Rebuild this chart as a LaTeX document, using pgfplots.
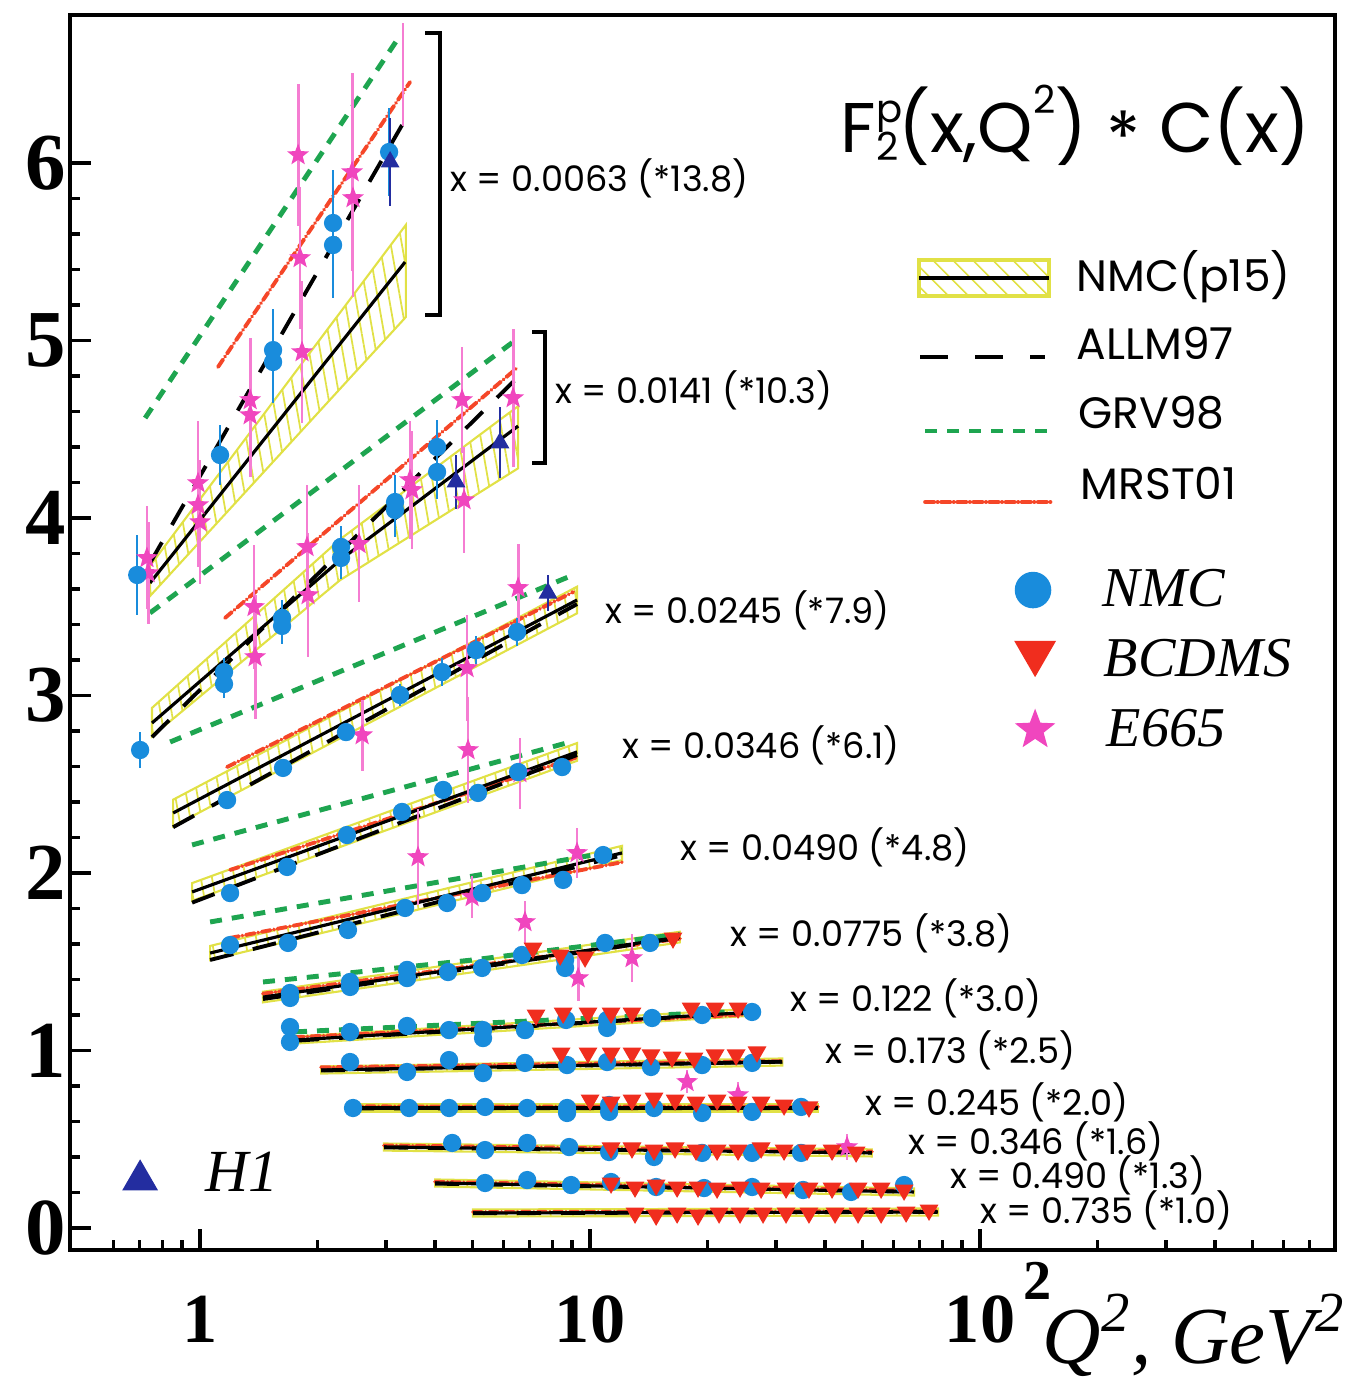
\documentclass[border=0pt]{standalone}
\usepackage{fontspec}
\setmainfont{Liberation Serif}
\newfontfamily\pop{Poppins}
\usepackage{pgfplots}
\pgfplotsset{compat=1.18}
\usetikzlibrary{patterns.meta}

\definecolor{nmcblue}{RGB}{25,140,220}
\definecolor{bcdred}{RGB}{240,45,30}
\definecolor{e665}{RGB}{240,70,190}
\definecolor{h1blue}{RGB}{35,45,160}
\definecolor{grvgreen}{RGB}{30,165,80}
\definecolor{mrstred}{RGB}{245,70,40}
\definecolor{bandyellow}{RGB}{225,225,70}

\pgfdeclareplotmark{fstar}{%
  \pgfpathmoveto{\pgfpointpolar{90}{\pgfplotmarksize}}%
  \pgfpathlineto{\pgfpointpolar{126}{0.42\pgfplotmarksize}}%
  \pgfpathlineto{\pgfpointpolar{162}{\pgfplotmarksize}}%
  \pgfpathlineto{\pgfpointpolar{198}{0.42\pgfplotmarksize}}%
  \pgfpathlineto{\pgfpointpolar{234}{\pgfplotmarksize}}%
  \pgfpathlineto{\pgfpointpolar{270}{0.42\pgfplotmarksize}}%
  \pgfpathlineto{\pgfpointpolar{306}{\pgfplotmarksize}}%
  \pgfpathlineto{\pgfpointpolar{342}{0.42\pgfplotmarksize}}%
  \pgfpathlineto{\pgfpointpolar{18}{\pgfplotmarksize}}%
  \pgfpathlineto{\pgfpointpolar{54}{0.42\pgfplotmarksize}}%
  \pgfpathclose
  \pgfusepathqfillstroke}

\pgfplotsset{
  band/.style={draw=bandyellow, line width=0.6pt, mark=none,
    pattern={Lines[angle=100,distance=1.1mm,line width=0.5pt]}, pattern color=bandyellow},
  fitline/.style={black, line width=0.9pt, mark=none},
  allm/.style={black, line width=1.1pt, mark=none, dash pattern=on 2.4mm off 2mm},
  grv/.style={grvgreen, line width=1.4pt, mark=none, dash pattern=on 1.2mm off 1mm},
  mrst/.style={mrstred, line width=1.1pt, mark=none, line cap=round,
    dash pattern=on 0.9mm off 0.35mm on 0.01mm off 0.35mm},
}

\begin{document}
\begin{tikzpicture}
\begin{axis}[
  at={(0,0)}, anchor=south west,
  scale only axis, width=12.65cm, height=12.35cm,
  xmode=log, log basis x=10,
  xmin=0.464, xmax=813, ymin=-0.124, ymax=6.834,
  tick pos=left, tick align=inside,
  xtick={1,10,100},
  xticklabels={1,10,{10\rlap{\hspace{0.12em}\smash{\raisebox{0.62em}{\fontsize{16}{16}\selectfont 2}}}}},
  minor xtick={0.6,0.7,0.8,0.9,2,3,4,5,6,7,8,9,20,30,40,50,60,70,80,90,200,300,400,500,600,700},
  ytick={0,1,2,3,4,5,6}, minor y tick num=4,
  major tick length=2.1mm, minor tick length=1mm,
  every tick/.style={black, line width=1pt},
  axis line style={line width=1.2pt},
  /pgf/number format/assume math mode=true,
  ticklabel style={font=\fontsize{20}{20}\selectfont\bfseries, inner sep=1pt},
  yticklabel style={font=\fontsize{23}{23}\selectfont\bfseries},
  xticklabel style={yshift=-4.2mm},
]

% ---------- NMC(p15) bands ----------
\addplot[band] coordinates {(0.744,3.73) (3.37,5.651) (3.37,5.132) (0.744,3.56)} -- cycle;
\addplot[band] coordinates {(0.753,2.93) (2.286,3.88) (6.54,4.63) (6.54,4.28) (2.286,3.65) (0.753,2.77)} -- cycle;
\addplot[band] coordinates {(0.853,2.413) (9.26,3.613) (9.26,3.463) (0.853,2.263)} -- cycle;
\addplot[band] coordinates {(0.954,1.943) (9.26,2.732) (9.26,2.632) (0.954,1.843)} -- cycle;
\addplot[band] coordinates {(1.061,1.589) (12.08,2.153) (12.08,2.073) (1.061,1.509)} -- cycle;
\addplot[band] coordinates {(1.45,1.331) (17.0,1.669) (17.0,1.609) (1.45,1.271)} -- cycle;
\addplot[band] coordinates {(1.752,1.079) (26.5,1.237) (26.5,1.197) (1.752,1.039)} -- cycle;
\addplot[band] coordinates {(2.043,0.91) (31.1,0.955) (31.1,0.915) (2.043,0.87)} -- cycle;
\addplot[band] coordinates {(2.424,0.696) (38.4,0.696) (38.4,0.656) (2.424,0.656)} -- cycle;
\addplot[band] coordinates {(2.963,0.476) (52.8,0.443) (52.8,0.403) (2.963,0.436)} -- cycle;
\addplot[band] coordinates {(4.005,0.2735) (67.7,0.223) (67.7,0.183) (4.005,0.2335)} -- cycle;
\addplot[band] coordinates {(5.01,0.1045) (78.0,0.11) (78.0,0.07) (5.01,0.0645)} -- cycle;

% ---------- GRV98 ----------
\addplot[grv] coordinates {(0.723,4.563) (3.20,6.693)};
\addplot[grv] coordinates {(0.744,3.465) (6.35,4.992)};
\addplot[grv] coordinates {(0.838,2.738) (9.05,3.679)};
\addplot[grv] coordinates {(0.954,2.158) (8.89,2.738)};
\addplot[grv] coordinates {(1.061,1.724) (12.08,2.130)};
\addplot[grv] coordinates {(1.45,1.386) (5.0,1.51) (17.0,1.655)};
\addplot[grv] coordinates {(1.752,1.105) (26.5,1.225)};

% ---------- MRST01 ----------
\addplot[mrst] coordinates {(1.112,4.851) (3.455,6.456)};
\addplot[mrst] coordinates {(1.159,3.437) (6.54,4.851)};
\addplot[mrst] coordinates {(1.173,2.597) (9.05,3.583)};
\addplot[mrst] coordinates {(1.194,2.017) (9.32,2.654)};
\addplot[mrst] coordinates {(1.194,1.634) (12.15,2.062)};
\addplot[mrst] coordinates {(1.45,1.32) (17.0,1.63)};
\addplot[mrst] coordinates {(1.752,1.075) (26.5,1.205)};
\addplot[mrst] coordinates {(2.043,0.905) (31.1,0.94)};
\addplot[mrst] coordinates {(2.424,0.685) (38.4,0.683)};
\addplot[mrst] coordinates {(2.963,0.465) (52.8,0.43)};
\addplot[mrst] coordinates {(4.005,0.26) (67.7,0.21)};
\addplot[mrst] coordinates {(5.01,0.09) (78.0,0.095)};

% ---------- ALLM97 ----------
\addplot[allm] coordinates {(0.744,3.746) (3.296,6.214)};
\addplot[allm] coordinates {(0.753,2.766) (6.50,4.789)};
\addplot[allm] coordinates {(0.853,2.258) (9.26,3.515)};
\addplot[allm] coordinates {(0.954,1.833) (9.26,2.665)};
\addplot[allm] coordinates {(1.061,1.51) (12.08,2.10)};
\addplot[allm] coordinates {(1.45,1.29) (17.0,1.635)};
\addplot[allm] coordinates {(1.752,1.055) (26.5,1.215)};
\addplot[allm] coordinates {(2.043,0.887) (31.1,0.937)};
\addplot[allm] coordinates {(2.424,0.674) (38.4,0.675)};
\addplot[allm] coordinates {(2.963,0.454) (52.8,0.424)};
\addplot[allm] coordinates {(4.005,0.25) (67.7,0.204)};
\addplot[allm] coordinates {(5.01,0.083) (78.0,0.091)};

% ---------- NMC(p15) central lines ----------
\addplot[fitline] coordinates {(0.744,3.634) (3.355,5.442)};
\addplot[fitline] coordinates {(0.753,2.845) (2.286,3.763) (6.54,4.518)};
\addplot[fitline] coordinates {(0.853,2.338) (9.26,3.538)};
\addplot[fitline] coordinates {(0.954,1.893) (9.26,2.682)};
\addplot[fitline] coordinates {(1.061,1.549) (12.08,2.113)};
\addplot[fitline] coordinates {(1.45,1.301) (17.0,1.639)};
\addplot[fitline] coordinates {(1.752,1.059) (26.5,1.217)};
\addplot[fitline] coordinates {(2.043,0.890) (31.1,0.935)};
\addplot[fitline] coordinates {(2.424,0.676) (38.4,0.676)};
\addplot[fitline] coordinates {(2.963,0.456) (52.8,0.423)};
\addplot[fitline] coordinates {(4.005,0.2535) (67.7,0.203)};
\addplot[fitline] coordinates {(5.01,0.0845) (78.0,0.090)};

% ---------- E665 ----------
\addplot[draw=none, mark=none,
  error bars/.cd, y dir=both, y explicit, error mark=none,
  error bar style={e665!70, line width=0.8pt}] coordinates {(3.315,6.496) +- (0,0.29)};
\addplot[only marks, mark=fstar, mark size=2.7pt, color=e665,
  mark options={fill=e665, draw=e665},
  error bars/.cd, y dir=both, y explicit, error mark=none,
  error bar style={e665!70, line width=0.8pt}] coordinates {
(0.731,3.775) +- (0,0.29) (0.736,3.690) +- (0,0.29)
(0.988,4.197) +- (0,0.35) (0.988,4.073) +- (0,0.35) (1.0,3.977) +- (0,0.35)
(1.344,4.665) +- (0,0.35) (1.344,4.580) +- (0,0.35)
(1.784,6.045) +- (0,0.4) (1.805,5.465) +- (0,0.4) (1.826,4.935) +- (0,0.4)
(2.454,5.949) +- (0,0.56) (2.467,5.803) +- (0,0.56)
(1.375,3.499) +- (0,0.35) (1.384,3.217) +- (0,0.35)
(1.881,3.837) +- (0,0.35) (1.892,3.566) +- (0,0.35)
(2.557,3.854) +- (0,0.33)
(3.455,4.214) +- (0,0.33) (3.495,4.158) +- (0,0.33)
(4.697,4.665) +- (0,0.3) (4.753,4.101) +- (0,0.3)
(6.35,4.676) +- (0,0.39)
(2.603,2.777) +- (0,0.2)
(4.838,3.155) +- (0,0.3) (4.866,2.693) +- (0,0.3)
(6.54,3.606) +- (0,0.25)
(6.61,2.563) +- (0,0.2)
(3.622,2.090) +- (0,0.27)
(4.982,1.865) +- (0,0.12)
(9.26,2.113) +- (0,0.14)
(6.81,1.724) +- (0,0.12)
(9.32,1.408) +- (0,0.13)
(12.81,1.521) +- (0,0.135)
(17.73,0.823) +- (0,0.065)
(23.96,0.749) +- (0,0.075)
(45.6,0.456) +- (0,0.075)
};

% ---------- NMC data ----------
\addplot[only marks, mark=*, mark size=2.4pt, color=nmcblue,
  mark options={fill=nmcblue, draw=nmcblue},
  error bars/.cd, y dir=both, y explicit, error mark=none,
  error bar style={nmcblue, line width=0.6pt}] coordinates {
(0.690,3.679) +- (0,0.225) (1.125,4.355) +- (0,0.17)
(1.539,4.946) +- (0,0.23) (1.539,4.879) +- (0,0.23)
(2.193,5.662) +- (0,0.3) (2.193,5.538) +- (0,0.3)
(3.053,6.062) +- (0,0.25)
(0.702,2.693) +- (0,0.1)
(1.152,3.132) +- (0,0.08) (1.152,3.065) +- (0,0.08)
(1.623,3.437) +- (0,0.1) (1.623,3.392) +- (0,0.1)
(2.299,3.837) +- (0,0.12) (2.299,3.775) +- (0,0.12)
(3.162,4.090) +- (0,0.15) (3.162,4.045) +- (0,0.15)
(4.053,4.400) +- (0,0.15) (4.053,4.259) +- (0,0.15)
(1.173,2.411) +- (0,0.04) (1.632,2.592) +- (0,0.05) (2.367,2.794) +- (0,0.05)
(3.257,3.003) +- (0,0.06) (4.174,3.132) +- (0,0.08) (5.10,3.256) +- (0,0.08)
(6.50,3.358) +- (0,0.08)
(1.194,1.887) +- (0,0.04) (1.672,2.034) +- (0,0.04) (2.381,2.214) +- (0,0.04)
(3.296,2.344) +- (0,0.04) (4.200,2.468) +- (0,0.04) (5.16,2.451) +- (0,0.04)
(6.54,2.569) +- (0,0.04) (8.48,2.597) +- (0,0.04)
(1.194,1.594) +- (0,0.03) (1.681,1.606) +- (0,0.03) (2.395,1.679) +- (0,0.03)
(3.355,1.803) +- (0,0.03) (4.30,1.831) +- (0,0.03) (5.285,1.887) +- (0,0.03)
(6.69,1.932) +- (0,0.03) (8.53,1.961) +- (0,0.03) (10.80,2.101) +- (0,0.03)
(1.701,1.324) +- (0,0.03) (1.701,1.296) +- (0,0.03) (2.424,1.386) +- (0,0.03)
(2.424,1.358) +- (0,0.03) (3.395,1.454) +- (0,0.03) (3.395,1.408) +- (0,0.03)
(4.324,1.442) +- (0,0.03) (5.285,1.465) +- (0,0.03) (6.69,1.538) +- (0,0.03)
(8.63,1.510) +- (0,0.03) (8.63,1.465) +- (0,0.03) (10.93,1.606) +- (0,0.03)
(14.25,1.606) +- (0,0.03)
(1.701,1.132) +- (0,0.03) (1.701,1.048) +- (0,0.03) (2.424,1.104) +- (0,0.02)
(3.395,1.138) +- (0,0.02) (4.35,1.115) +- (0,0.02) (5.316,1.115) +- (0,0.02)
(5.316,1.070) +- (0,0.02) (6.81,1.115) +- (0,0.02) (8.68,1.172) +- (0,0.02)
(11.06,1.172) +- (0,0.02) (11.06,1.127) +- (0,0.02) (14.42,1.183) +- (0,0.02)
(19.38,1.200) +- (0,0.02) (26.03,1.217) +- (0,0.02)
(2.424,0.935) +- (0,0.02) (3.395,0.879) +- (0,0.02) (4.35,0.946) +- (0,0.02)
(5.316,0.873) +- (0,0.02) (6.81,0.930) +- (0,0.02) (8.73,0.918) +- (0,0.02)
(11.06,0.935) +- (0,0.02) (14.33,0.907) +- (0,0.02) (19.38,0.918) +- (0,0.02)
(26.03,0.930) +- (0,0.02)
(2.467,0.676) +- (0,0.02) (3.435,0.676) +- (0,0.02) (4.35,0.676) +- (0,0.02)
(5.38,0.682) +- (0,0.02) (6.90,0.676) +- (0,0.02) (8.73,0.676) +- (0,0.02)
(8.73,0.648) +- (0,0.02) (11.19,0.693) +- (0,0.02) (11.19,0.654) +- (0,0.02)
(14.59,0.676) +- (0,0.02) (19.38,0.648) +- (0,0.02) (26.03,0.654) +- (0,0.02)
(34.76,0.682) +- (0,0.02)
(4.43,0.479) +- (0,0.02) (5.38,0.439) +- (0,0.02) (6.90,0.479) +- (0,0.02)
(8.84,0.456) +- (0,0.02) (11.19,0.428) +- (0,0.02) (14.59,0.400) +- (0,0.02)
(19.38,0.423) +- (0,0.02) (26.03,0.423) +- (0,0.02) (34.76,0.423) +- (0,0.02)
(5.38,0.2535) +- (0,0.02) (6.90,0.270) +- (0,0.02) (8.94,0.242) +- (0,0.02)
(11.32,0.259) +- (0,0.02) (14.77,0.231) +- (0,0.02) (19.60,0.225) +- (0,0.02)
(26.03,0.231) +- (0,0.02) (35.17,0.214) +- (0,0.02) (46.7,0.203) +- (0,0.02)
(63.85,0.242) +- (0,0.02)
};

% ---------- BCDMS ----------
\addplot[only marks, mark=triangle*, mark size=2.7pt, color=bcdred,
  mark options={rotate=180, fill=bcdred, draw=bcdred}] coordinates {
(7.14,1.577) (8.38,1.538) (9.71,1.527) (16.32,1.634)
(7.27,1.200) (8.53,1.211) (9.88,1.211) (11.32,1.211) (12.81,1.211) (18.16,1.239) (20.92,1.239) (23.96,1.239)
(8.43,0.986) (9.88,0.986) (11.32,0.986) (12.81,0.986) (14.33,0.975) (16.23,0.963) (18.48,0.958) (20.92,0.975) (23.68,0.975) (26.80,0.992)
(10.0,0.721) (11.32,0.710) (12.81,0.721) (14.59,0.732) (16.52,0.721) (18.70,0.710) (21.17,0.721) (23.96,0.710) (27.45,0.710) (31.44,0.693) (36.42,0.682)
(11.32,0.451) (12.81,0.451) (14.59,0.439) (16.52,0.451) (18.70,0.439) (21.17,0.439) (23.96,0.439) (27.45,0.451) (31.44,0.439) (36.0,0.439) (41.74,0.439) (48.1,0.428)
(11.32,0.2535) (13.04,0.231) (14.77,0.242) (16.72,0.231) (18.92,0.231) (21.17,0.225) (24.24,0.231) (27.45,0.225) (31.81,0.225) (36.42,0.225) (41.74,0.225) (48.66,0.225) (55.75,0.225) (63.85,0.214)
(13.04,0.0845) (14.77,0.073) (16.72,0.0845) (18.92,0.073) (21.42,0.0845) (24.24,0.0845) (27.77,0.0845) (31.81,0.0845) (36.42,0.0845) (42.48,0.0845) (48.66,0.0845) (55.75,0.0845) (64.62,0.090) (73.99,0.101)
};

% ---------- H1 ----------
\addplot[only marks, mark=triangle*, mark size=2.7pt, color=h1blue,
  mark options={fill=h1blue, draw=h1blue},
  error bars/.cd, y dir=both, y explicit, error mark=none,
  error bar style={h1blue, line width=0.6pt}] coordinates {
(3.071,6.006) +- (0,0.25) (4.533,4.203) +- (0,0.15) (5.876,4.423) +- (0,0.2) (7.80,3.577) +- (0,0.1)
};

% ---------- legend samples ----------
\addplot[draw=bandyellow, line width=1pt, pattern={Lines[angle=135,distance=1.4mm,line width=0.5pt]}, pattern color=bandyellow]
  coordinates {(69.8,5.454) (150.3,5.454) (150.3,5.251) (69.8,5.251)} -- cycle;
\addplot[black, line width=1.2pt, mark=none] coordinates {(69.8,5.352) (150.3,5.352)};
\addplot[black, line width=1.1pt, mark=none, dash pattern=on 2.8mm off 2.7mm] coordinates {(70.2,4.907) (146.8,4.907)};
\addplot[grv] coordinates {(72.3,4.490) (150.6,4.490)};
\addplot[mrst] coordinates {(72.3,4.090) (152.4,4.090)};
\addplot[only marks, mark=*, mark size=5pt, color=nmcblue, mark options={fill=nmcblue, draw=nmcblue}] coordinates {(136.7,3.594)};
\addplot[only marks, mark=triangle*, mark size=6.5pt, color=bcdred, mark options={rotate=180, fill=bcdred, draw=bcdred}] coordinates {(138.4,3.24)};
\addplot[only marks, mark=fstar, mark size=5.5pt, color=e665, mark options={fill=e665, draw=e665}] coordinates {(138.4,2.806)};
\addplot[only marks, mark=triangle*, mark size=5.5pt, color=h1blue, mark options={fill=h1blue, draw=h1blue}] coordinates {(0.702,0.27)};
\end{axis}

% brackets
\draw[black, line width=0.9pt] (3.55,12.17) -- (3.70,12.17) -- (3.70,9.35) -- (3.55,9.35);
\draw[black, line width=0.9pt] (4.62,9.18) -- (4.75,9.18) -- (4.75,7.87) -- (4.62,7.87);

% bin labels
\begin{scope}[every node/.style={anchor=west, font=\pop\fontsize{10}{12}\selectfont, inner sep=0pt}]
\node at (3.80,10.72) {x = 0.0063 (*13.8)};
\node at (4.85,8.60) {x = 0.0141 (*10.3)};
\node at (5.35,6.40) {x = 0.0245 (*7.9)};
\node at (5.52,5.05) {x = 0.0346 (*6.1)};
\node at (6.10,4.03) {x = 0.0490 (*4.8)};
\node at (6.60,3.17) {x = 0.0775 (*3.8)};
\node at (7.20,2.52) {x = 0.122 (*3.0)};
\node at (7.55,2.00) {x = 0.173 (*2.5)};
\node at (7.95,1.48) {x = 0.245 (*2.0)};
\node at (8.38,1.09) {x = 0.346 (*1.6)};
\node at (8.80,0.75) {x = 0.490 (*1.3)};
\node at (9.10,0.40) {x = 0.735 (*1.0)};
\end{scope}

% title
\node[anchor=west, inner sep=0pt, font=\pop\fontsize{20}{24}\selectfont] at (7.70,11.25)
 {F\rlap{\raisebox{0.42em}{\fontsize{11}{11}\selectfont p}}\raisebox{-0.12em}{\fontsize{11}{11}\selectfont 2}(x,Q\raisebox{0.55em}{\fontsize{11}{11}\selectfont 2}) \raisebox{-0.15em}{*} C(x)};

% legend texts
\begin{scope}[every node/.style={anchor=west, inner sep=0pt, font=\pop\fontsize{12.5}{14}\selectfont}]
\node at (10.06,9.73) {NMC(p15)};
\node at (10.06,9.07) {ALLM97};
\node at (10.08,8.37) {GRV98};
\node at (10.10,7.66) {MRST01};
\end{scope}
\begin{scope}[every node/.style={anchor=west, inner sep=0pt, font=\fontsize{16}{18}\selectfont\itshape}]
\node at (10.32,6.62) {NMC};
\node at (10.33,5.92) {BCDMS};
\node at (10.36,5.22) {E665};
\node[font=\fontsize{17}{18}\selectfont\itshape] at (1.35,0.78) {H1};
\end{scope}

% x label
\node[anchor=base west, inner sep=0pt, font=\fontsize{23}{28}\selectfont\itshape] at (9.72,-1.13) {Q\textsuperscript{2}, GeV\textsuperscript{2}};

\pgfresetboundingbox
\path[use as bounding box] (-0.70,-1.36) rectangle (12.98,12.50);
\end{tikzpicture}
\end{document}
